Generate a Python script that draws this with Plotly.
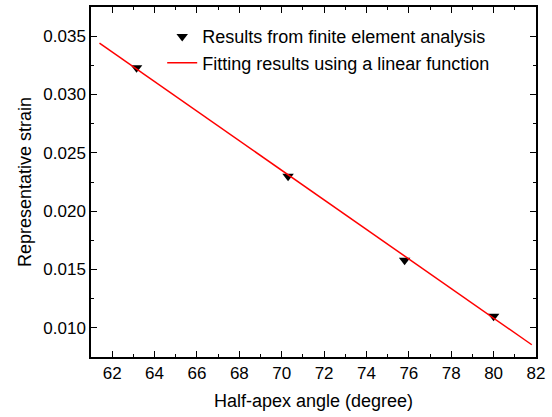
import plotly.graph_objects as go

# Data
fea_angle = [63.15, 70.3, 75.8, 80.0]
fea_strain = [0.0323, 0.0230, 0.0158, 0.0110]
fit_angle = [61.4, 81.8]
fit_strain = [0.03440, 0.00855]

font_family = "Liberation Sans, Arial, Helvetica, sans-serif"

fig = go.Figure()
fig.add_trace(go.Scatter(
    x=fea_angle, y=fea_strain, mode="markers",
    name="Results from finite element analysis",
    marker=dict(symbol="triangle-down", size=10, color="black"),
))
fig.add_trace(go.Scatter(
    x=fit_angle, y=fit_strain, mode="lines",
    name="Fitting results using a linear function",
    line=dict(color="#ff0000", width=1.5),
))

axis_common = dict(
    showline=True, linecolor="black", linewidth=1.5, mirror="ticks",
    ticks="inside", ticklen=6, tickwidth=1.3, tickcolor="black",
    showgrid=False, zeroline=False,
    tickfont=dict(family=font_family, size=17, color="black"),
)

fig.update_layout(
    width=552, height=417,
    margin=dict(l=91, r=16, t=5, b=60),
    paper_bgcolor="white", plot_bgcolor="white",
    font=dict(family=font_family, color="black"),
    xaxis=dict(
        range=[61, 82], tickmode="linear", tick0=62, dtick=2,
        minor=dict(ticks="inside", ticklen=3, tickwidth=1.2, tickcolor="black", dtick=1, tick0=61),
        title=dict(text="Half-apex angle (degree)", font=dict(family=font_family, size=18), standoff=12),
        **axis_common,
    ),
    yaxis=dict(
        range=[0.0075, 0.0375], tickmode="linear", tick0=0.01, dtick=0.005,
        tickformat=".3f",
        minor=dict(ticks="inside", ticklen=3, tickwidth=1.2, tickcolor="black", dtick=0.0025, tick0=0.0075),
        title=dict(text="Representative strain", font=dict(family=font_family, size=18), standoff=7),
        **axis_common,
    ),
    legend=dict(
        x=0.16, y=0.968, xanchor="left", yanchor="top",
        bgcolor="rgba(0,0,0,0)", borderwidth=0,
        font=dict(family=font_family, size=18, color="black"),
        tracegroupgap=0,
    ),
    showlegend=True,
)

fig.write_html("out.html", config={"displayModeBar": False},
               post_script="document.body.style.margin='0';")
